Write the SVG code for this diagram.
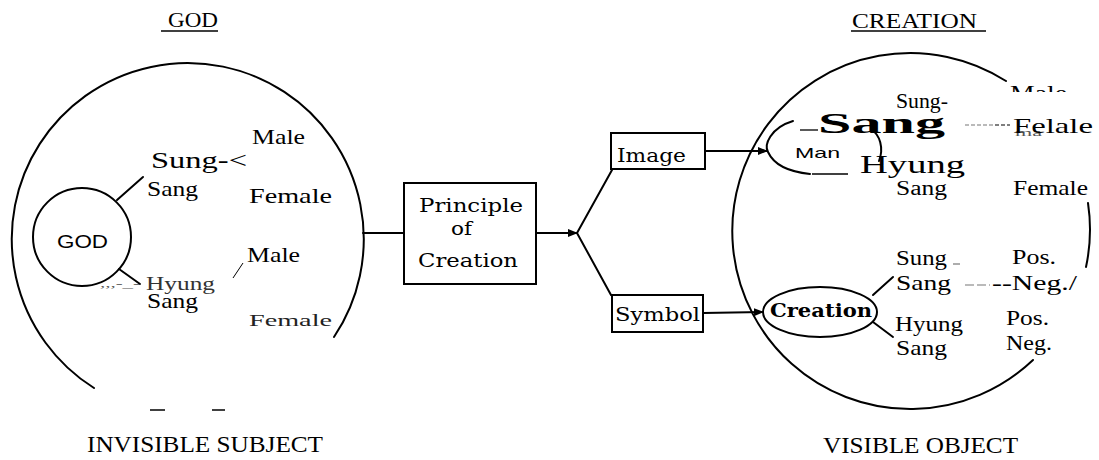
<svg xmlns="http://www.w3.org/2000/svg" width="1099" height="460" viewBox="0 0 1099 460">
<style>
  .ln{fill:none;stroke:#000;stroke-width:2;stroke-linecap:round}
  .thin{fill:none;stroke:#000;stroke-width:1.3}
  .box{fill:#fff;stroke:#000;stroke-width:2}
  .gd{stroke:#777;stroke-width:1.2;fill:none}
</style>
<defs>
  <marker id="ah" viewBox="0 0 10 8" refX="9" refY="4" markerWidth="10" markerHeight="8" markerUnits="userSpaceOnUse" orient="auto">
    <path d="M0,0 L10,4 L0,8 Z" fill="#000"/>
  </marker>
  <clipPath id="maleClip"><rect x="1000" y="70" width="99" height="22"/></clipPath>
</defs>

<g font-family="Liberation Serif, Times New Roman, serif" fill="#000">
<!-- headings -->
<g id="heading-god">
  <text x="168" y="27" font-size="22" textLength="50" lengthAdjust="spacingAndGlyphs">GOD</text>
  <line x1="161" y1="31" x2="218" y2="31" stroke="#000" stroke-width="1.5"/>
</g>
<g id="heading-creation">
  <text x="852" y="28" font-size="22" textLength="125" lengthAdjust="spacingAndGlyphs">CREATION</text>
  <line x1="851" y1="31" x2="986" y2="31" stroke="#000" stroke-width="1.5"/>
</g>

<!-- GOD big circle (invisible subject) -->
<g id="god-sphere">
  <path class="ln" d="M 334 337 A 176 176 0 1 0 94 388"/>
  <text x="252" y="144" font-size="22" textLength="53" lengthAdjust="spacingAndGlyphs">Male</text>
  <text x="151" y="168" font-size="23" textLength="96" lengthAdjust="spacingAndGlyphs">Sung-&lt;</text>
  <text x="147" y="196" font-size="22" textLength="51" lengthAdjust="spacingAndGlyphs">Sang</text>
  <text x="249" y="203" font-size="22" textLength="83" lengthAdjust="spacingAndGlyphs">Female</text>
  <text x="247" y="262" font-size="22" textLength="53" lengthAdjust="spacingAndGlyphs">Male</text>
  <line x1="233" y1="278" x2="243" y2="263" stroke="#000" stroke-width="1"/>
  <text x="100" y="287" font-size="10" fill="#555" textLength="40" lengthAdjust="spacingAndGlyphs">,,,-_-</text>
  <text x="146" y="290" font-size="18" fill="#333" textLength="69" lengthAdjust="spacingAndGlyphs">Hyung</text>
  <text x="147" y="308" font-size="22" textLength="51" lengthAdjust="spacingAndGlyphs">Sang</text>
  <text x="249" y="326" font-size="17" fill="#222" textLength="83" lengthAdjust="spacingAndGlyphs">Female</text>
  <line x1="150" y1="410" x2="165" y2="410" stroke="#000" stroke-width="1.5"/>
  <line x1="212" y1="410" x2="225" y2="410" stroke="#000" stroke-width="1.5"/>
  <text x="87" y="452" font-size="24" textLength="236" lengthAdjust="spacingAndGlyphs">INVISIBLE SUBJECT</text>
</g>

<g id="god-core">
  <circle class="ln" cx="82" cy="237" r="49"/>
  <text font-family="Liberation Sans, Arial, sans-serif" x="57" y="248" font-size="19" textLength="51" lengthAdjust="spacingAndGlyphs">GOD</text>
</g>

<!-- Principle of Creation -->
<g id="principle" font-family="DejaVu Serif, Liberation Serif, serif">
  <rect class="box" x="404" y="183" width="132" height="101"/>
  <text x="419" y="212" font-size="19" textLength="104" lengthAdjust="spacingAndGlyphs">Principle</text>
  <text x="451" y="235" font-size="19" textLength="21" lengthAdjust="spacingAndGlyphs">of</text>
  <text x="418" y="267" font-size="19" textLength="100" lengthAdjust="spacingAndGlyphs">Creation</text>
</g>

<g id="image" font-family="DejaVu Serif, Liberation Serif, serif">
  <rect class="box" x="611" y="133" width="94" height="36"/>
  <text x="617" y="162" font-size="19" textLength="69" lengthAdjust="spacingAndGlyphs">Image</text>
</g>

<g id="symbol" font-family="DejaVu Serif, Liberation Serif, serif">
  <rect class="box" x="612" y="295" width="91" height="37"/>
  <text x="615" y="321" font-size="19" textLength="85" lengthAdjust="spacingAndGlyphs">Symbol</text>
</g>

<!-- Creation big circle (visible object) -->
<g id="creation-sphere">
  <path class="ln" d="M 1006 81 A 178 178 0 1 0 1033 360"/>
  <path class="ln" d="M 1088 203 A 178 178 0 0 1 1086 267"/>
  <g clip-path="url(#maleClip)">
    <text x="1010" y="100" font-size="22" textLength="57" lengthAdjust="spacingAndGlyphs">Male</text>
  </g>
  <text x="896" y="108" font-size="22" textLength="52" lengthAdjust="spacingAndGlyphs">Sung-</text>
  <text x="818" y="133" font-size="29" font-weight="bold" textLength="127" lengthAdjust="spacingAndGlyphs">Sang</text>
  <line class="gd" x1="965" y1="125" x2="995" y2="125" stroke-dasharray="4 2"/>
  <line x1="995" y1="125" x2="1010" y2="125" stroke="#000" stroke-width="1.2" stroke-dasharray="4 2"/>
  <text x="1015" y="136" font-size="11" fill="#555" textLength="27" lengthAdjust="spacingAndGlyphs">ma</text>
  <text x="1013" y="133" font-size="22" textLength="80" lengthAdjust="spacingAndGlyphs">Felale</text>
  <text x="860" y="173" font-size="25" textLength="105" lengthAdjust="spacingAndGlyphs">Hyung</text>
  <text x="896" y="195" font-size="20" textLength="51" lengthAdjust="spacingAndGlyphs">Sang</text>
  <text x="1013" y="195" font-size="22" textLength="75" lengthAdjust="spacingAndGlyphs">Female</text>

  <text x="896" y="265" font-size="22" textLength="51" lengthAdjust="spacingAndGlyphs">Sung</text>
  <line class="gd" x1="953" y1="264" x2="960" y2="264"/>
  <text x="1012" y="264" font-size="22" textLength="44" lengthAdjust="spacingAndGlyphs">Pos.</text>
  <text x="896" y="290" font-size="22" textLength="55" lengthAdjust="spacingAndGlyphs">Sang</text>
  <line class="gd" x1="965" y1="285" x2="990" y2="285" stroke-dasharray="9 3"/>
  <text x="992" y="290" font-size="22" textLength="85" lengthAdjust="spacingAndGlyphs">--Neg./</text>
  <text x="895" y="331" font-size="22" textLength="68" lengthAdjust="spacingAndGlyphs">Hyung</text>
  <text x="1006" y="325" font-size="22" textLength="43" lengthAdjust="spacingAndGlyphs">Pos.</text>
  <text x="896" y="355" font-size="22" textLength="51" lengthAdjust="spacingAndGlyphs">Sang</text>
  <text x="1006" y="350" font-size="22" textLength="46" lengthAdjust="spacingAndGlyphs">Neg.</text>
  <text x="823" y="453" font-size="24" textLength="195" lengthAdjust="spacingAndGlyphs">VISIBLE OBJECT</text>
</g>

<g id="man">
  <path class="ln" d="M 793 121 C 770 128, 764 145, 768 152 C 774 165, 790 172, 810 174"/>
  <line class="thin" x1="812" y1="174" x2="848" y2="174"/>
  <line class="thin" x1="800" y1="130" x2="818" y2="130"/>
  <path class="ln" d="M 871 129 C 880 135, 884 148, 879 161"/>
  <text font-family="Liberation Sans, Arial, sans-serif" x="795" y="158" font-size="15" textLength="45" lengthAdjust="spacingAndGlyphs">Man</text>
</g>

<g id="creation" font-family="DejaVu Serif, Liberation Serif, serif">
  <ellipse class="ln" cx="820" cy="312" rx="57" ry="25"/>
  <text x="770" y="317" font-size="19" font-weight="bold" textLength="102" lengthAdjust="spacingAndGlyphs">Creation</text>
</g>
</g>

<!-- connectors -->
<g id="connectors">
  <line class="ln" x1="117" y1="200" x2="143" y2="177"/>
  <line class="ln" x1="119" y1="269" x2="140" y2="284"/>
  <line class="ln" x1="363" y1="233" x2="404" y2="233"/>
  <line class="ln" x1="536" y1="233" x2="577" y2="233" marker-end="url(#ah)"/>
  <path class="ln" d="M 577 233 L 612 170 M 577 233 L 611 295"/>
  <line class="ln" x1="705" y1="151" x2="767" y2="151" marker-end="url(#ah)"/>
  <line class="ln" x1="703" y1="313" x2="763" y2="312" marker-end="url(#ah)"/>
  <line class="ln" x1="873" y1="295" x2="893" y2="277"/>
  <line class="ln" x1="873" y1="322" x2="893" y2="337"/>
</g>
</svg>
